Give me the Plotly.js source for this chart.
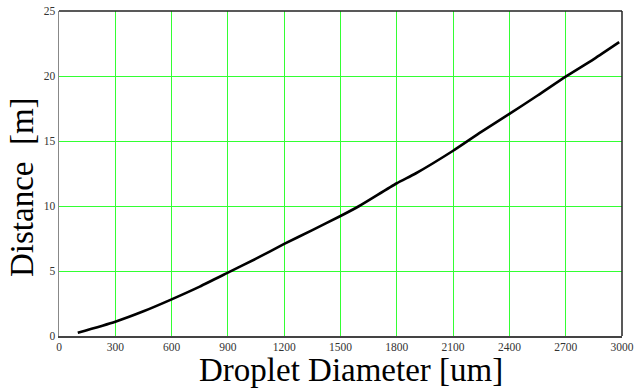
<!DOCTYPE html>
<html>
<head>
<meta charset="utf-8">
<script src="https://cdn.plot.ly/plotly-3.0.1.min.js"></script>
<style>html,body{margin:0;padding:0;background:#fff;}#chart{width:637px;height:391px;}</style>
</head>
<body>
<div id="chart"></div>
<script>
// Droplet diameter [um]
const diameter = [100, 300, 450, 600, 750, 900, 1050, 1200, 1350, 1500, 1600, 1800, 1900, 2100, 2250, 2400, 2550, 2700, 2850, 2985];
// Distance [m]
const distance = [0.25, 1.1, 1.9, 2.82, 3.8, 4.87, 5.95, 7.08, 8.15, 9.23, 10.0, 11.75, 12.5, 14.25, 15.7, 17.08, 18.5, 19.95, 21.3, 22.6];
const xTicks = [0, 300, 600, 900, 1200, 1500, 1800, 2100, 2400, 2700, 3000];
const yTicks = [0, 5, 10, 15, 20, 25];
const xTitle = 'Droplet Diameter [um]';
const yTitle = 'Distance&nbsp;&nbsp;[m]';

const trace = {
  x: diameter, y: distance, type: 'scatter', mode: 'lines',
  line: {color: '#000000', width: 2.6, shape: 'spline', smoothing: 0.6},
  hoverinfo: 'skip'
};

const serif = '"Liberation Serif", "Times New Roman", serif';

const layout = {
  width: 637, height: 391,
  margin: {l: 59, r: 15, t: 11, b: 55},
  paper_bgcolor: '#ffffff', plot_bgcolor: '#ffffff',
  showlegend: false,
  font: {family: serif, color: '#222222'},
  xaxis: {
    range: [0, 3000], tickvals: xTicks, ticktext: xTicks.map(String),
    showgrid: true, gridcolor: '#33ff33', gridwidth: 1,
    zeroline: false, showline: true, linecolor: '#444444', linewidth: 1.5, mirror: false,
    ticks: '', tickfont: {size: 11.5, color: '#333333'}
  },
  yaxis: {
    range: [0, 25], tickvals: yTicks, ticktext: yTicks.map(String),
    showgrid: true, gridcolor: '#33ff33', gridwidth: 1,
    zeroline: false, showline: true, linecolor: '#888888', linewidth: 1.5,
    ticks: '', tickfont: {size: 11.5, color: '#333333'}
  },
  annotations: [
    {text: xTitle, xref: 'paper', yref: 'paper', x: 0.0, y: 0, xshift: 351 - 59, yshift: -34,
     xanchor: 'center', yanchor: 'middle', showarrow: false,
     font: {family: serif, size: 33, color: '#000000'}},
    {text: yTitle, xref: 'paper', yref: 'paper', x: 0, y: 0, xshift: 22 - 59, yshift: 336 - 187,
     xanchor: 'center', yanchor: 'middle', textangle: -90, showarrow: false,
     font: {family: serif, size: 33, color: '#000000'}}
  ],
  shapes: [
    {type: 'line', xref: 'paper', yref: 'paper', x0: 0, x1: 1, y0: 1, y1: 1, line: {color: '#222222', width: 1.5}},
    {type: 'line', xref: 'paper', yref: 'paper', x0: 1, x1: 1, y0: 0, y1: 1, line: {color: '#222222', width: 1.5}}
  ]
};

Plotly.newPlot('chart', [trace], layout, {displayModeBar: false, staticPlot: true});
</script>
</body>
</html>
